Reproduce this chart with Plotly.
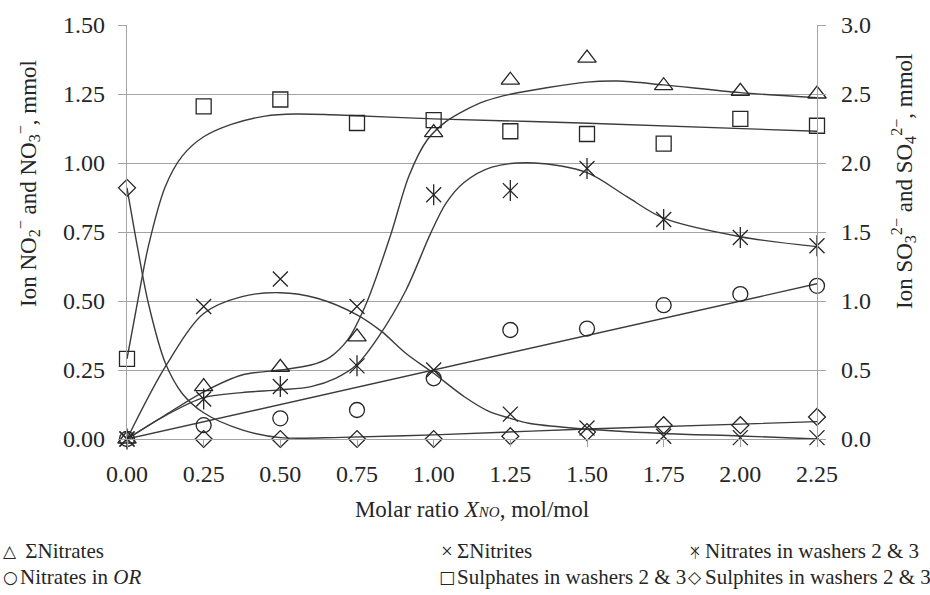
import plotly.graph_objects as go

# Molar ratio X_NO (mol/mol) at which samples were taken
ratio = [0.00, 0.25, 0.50, 0.75, 1.00, 1.25, 1.50, 1.75, 2.00, 2.25]

# Measured amounts, mmol
sum_nitrates = [0.00, 0.19, 0.26, 0.37, 1.11, 1.30, 1.38, 1.28, 1.26, 1.25]
sum_nitrites = [0.00, 0.48, 0.58, 0.48, 0.25, 0.09, 0.04, 0.01, 0.005, 0.005]
nitrates_washers = [0.00, 0.145, 0.19, 0.265, 0.885, 0.90, 0.98, 0.795, 0.73, 0.70]
nitrates_or = [0.00, 0.05, 0.075, 0.105, 0.22, 0.395, 0.40, 0.485, 0.525, 0.555]
sulphates_washers = [0.58, 2.41, 2.46, 2.29, 2.31, 2.23, 2.21, 2.14, 2.32, 2.27]
sulphites_washers = [1.82, 0.00, 0.00, 0.00, 0.00, 0.02, 0.05, 0.10, 0.10, 0.16]

# Smoothed trend curves (x, y) for each series
fit_nitrates_x = [0, 0.125, 0.25, 0.375, 0.5, 0.6, 0.66, 0.72, 0.78, 0.86, 0.92, 0.98, 1.04, 1.1, 1.17, 1.25, 1.5, 1.6, 1.75, 2.0, 2.25]
fit_nitrates_y = [0, 0.087, 0.171, 0.232, 0.25, 0.268, 0.295, 0.36, 0.49, 0.74, 0.955, 1.085, 1.15, 1.19, 1.225, 1.249, 1.293, 1.297, 1.283, 1.255, 1.237]

fit_nitrites_x = [0, 0.125, 0.25, 0.375, 0.5, 0.62, 0.75, 0.83, 0.91, 1.0, 1.1, 1.18, 1.25, 1.31, 1.45, 1.75, 2.0, 2.25]
fit_nitrites_y = [0, 0.262, 0.455, 0.516, 0.53, 0.51, 0.45, 0.39, 0.31, 0.238, 0.153, 0.10, 0.075, 0.057, 0.04, 0.02, 0.011, 0.0]

fit_washers_x = [0, 0.125, 0.25, 0.375, 0.5, 0.6, 0.68, 0.75, 0.82, 0.91, 0.99, 1.04, 1.1, 1.19, 1.33, 1.5, 1.63, 1.75, 2.0, 2.25]
fit_washers_y = [0, 0.085, 0.15, 0.168, 0.178, 0.19, 0.22, 0.27, 0.37, 0.54, 0.745, 0.854, 0.93, 0.985, 1.0, 0.965, 0.878, 0.80, 0.733, 0.697]

fit_or_x = [0, 2.25]
fit_or_y = [0, 0.5625]

fit_sulphates_x = [0, 0.035, 0.07, 0.125, 0.18, 0.25, 0.34, 0.45, 0.55, 0.67, 1.0, 1.48, 2.25]
fit_sulphates_y = [0.58, 1.0, 1.40, 1.83, 2.05, 2.19, 2.28, 2.34, 2.355, 2.35, 2.32, 2.29, 2.23]

fit_sulphites_x = [0, 0.035, 0.07, 0.125, 0.18, 0.25, 0.375, 0.5, 0.7, 1.0, 1.5, 2.25]
fit_sulphites_y = [1.82, 1.38, 0.98, 0.55, 0.33, 0.19, 0.066, 0.01, 0.012, 0.03, 0.072, 0.126]

x_ticks = [0.00, 0.25, 0.50, 0.75, 1.00, 1.25, 1.50, 1.75, 2.00, 2.25]

# Key entries: (symbol glyphs, label)
key_labels = [
    [("\u25b3", "\u0020\u03a3Nitrates"), ("\u00d7", "\u03a3Nitrites"), ("\u00d7|", "Nitrates in washers 2 &amp; 3")],
    [("\u25cb", "Nitrates in <i>OR</i>"), ("\u25a1", "Sulphates in washers 2 &amp; 3"), ("\u25c7", "Sulphites in washers 2 &amp; 3")],
]

SERIF = "Liberation Serif, serif"
INK = "#262626"
CURVE = "#3c3c3c"
GRID = "#a3a3a3"

W, H = 930, 595
ML, MR, MT, MB = 127, 113, 25, 156
PW, PH = W - ML - MR, H - MT - MB


def px_to_paper(px, py):
    return (px - ML) / PW, 1 - (py - MT) / PH


fig = go.Figure()


def curve(xs, ys, axis):
    fig.add_trace(go.Scatter(
        x=xs, y=ys, yaxis=axis, mode="lines",
        line=dict(color=CURVE, width=1.4, shape="spline", smoothing=0.9),
        hoverinfo="skip", showlegend=False))


def points(ys, axis, symbol, size):
    fig.add_trace(go.Scatter(
        x=ratio, y=ys, yaxis=axis, mode="markers", cliponaxis=False,
        marker=dict(symbol=symbol, size=size, color=INK,
                    line=dict(color=INK, width=1.3)),
        showlegend=False))


curve(fit_nitrates_x, fit_nitrates_y, "y")
curve(fit_nitrites_x, fit_nitrites_y, "y")
curve(fit_washers_x, fit_washers_y, "y")
curve(fit_or_x, fit_or_y, "y")
curve(fit_sulphates_x, fit_sulphates_y, "y2")
curve(fit_sulphites_x, fit_sulphites_y, "y2")

points(sum_nitrates, "y", "triangle-up-open", 16)
points(sum_nitrites, "y", "x-thin-open", 15)
points(nitrates_washers, "y", "x-thin-open", 15)
points(nitrates_washers, "y", "line-ns-open", 15)
points(nitrates_or, "y", "circle-open", 15)
points(sulphates_washers, "y2", "square-open", 15)
points(sulphites_washers, "y2", "diamond-open", 13)

tick_font = dict(family=SERIF, size=24, color=INK)
title_font = dict(family=SERIF, size=23, color=INK)

fig.update_layout(
    width=W, height=H,
    margin=dict(l=ML, r=MR, t=MT, b=MB),
    paper_bgcolor="white", plot_bgcolor="white",
    showlegend=False,
    xaxis=dict(
        range=[0, 2.25], tickvals=x_ticks, ticktext=[f"{v:.2f}" for v in x_ticks],
        showgrid=False, zeroline=False, showline=True, linecolor=GRID, linewidth=1.3,
        ticks="outside", ticklen=7, tickcolor=GRID, tickwidth=1.3,
        tickfont=tick_font, ticklabelstandoff=6,
        title=dict(text="Molar ratio <i>X</i><i><span style='font-size:15px'>NO</span></i>, mol/mol",
                   font=title_font, standoff=14),
    ),
    yaxis=dict(
        range=[0, 1.5], dtick=0.25, tickformat=".2f",
        showgrid=True, gridcolor=GRID, gridwidth=1.3, zeroline=False,
        showline=True, linecolor=GRID, linewidth=1.3,
        ticks="outside", ticklen=8, tickcolor=GRID, tickwidth=1.3,
        tickfont=tick_font, ticklabelstandoff=8,
    ),
    yaxis2=dict(
        range=[0, 3.0], dtick=0.5, tickformat=".1f", overlaying="y", side="right",
        showgrid=False, zeroline=False, showline=True, linecolor=GRID, linewidth=1.3,
        ticks="outside", ticklen=8, tickcolor=GRID, tickwidth=1.3,
        tickfont=tick_font, ticklabelstandoff=10,
    ),
)

# Vertical axis titles
for text, (cx, cy) in [
    ("Ion NO<sub>2</sub><sup>\u2212</sup> and NO<sub>3</sub><sup>\u2212</sup>, mmol", (28, 184)),
    ("Ion SO<sub>3</sub><sup>2\u2212</sup> and SO<sub>4</sub><sup>2\u2212</sup>, mmol", (903, 182)),
]:
    ax, ay = px_to_paper(cx, cy)
    fig.add_annotation(xref="paper", yref="paper", x=ax, y=ay, textangle=-90,
                       xanchor="center", yanchor="middle", showarrow=False,
                       text=text, font=title_font)

# Key below the x-axis title, three columns by two rows
col_x = [3, 440, 688]
row_y = [551, 577]
for r, row in enumerate(key_labels):
    for c, (sym, label) in enumerate(row):
        sx, sy = px_to_paper(col_x[c] + 7, row_y[r])
        for g in sym:
            if g == "|":
                gfont = dict(family=SERIF, size=13, color=INK)
            elif g == "\u00d7":
                gfont = dict(family=SERIF, size=21, color=INK)
            else:
                gfont = dict(family="DejaVu Sans", size=17, color=INK)
            fig.add_annotation(xref="paper", yref="paper", x=sx, y=sy,
                               xanchor="center", yanchor="middle", showarrow=False,
                               text=g, font=gfont)
        tx, ty = px_to_paper(col_x[c] + 15, row_y[r])
        fig.add_annotation(
            xref="paper", yref="paper", x=tx, y=ty,
            xanchor="left", yanchor="middle", showarrow=False,
            text=label, font=dict(family=SERIF, size=21, color=INK),
        )

fig.write_html("out.html")
